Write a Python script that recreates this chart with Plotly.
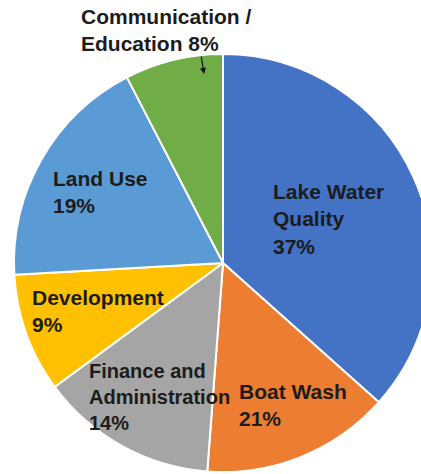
import plotly.graph_objects as go

# Data (slice sizes as drawn in the picture, label percentages as printed)
categories = ["Lake Water Quality", "Boat Wash", "Finance and Administration",
              "Development", "Land Use", "Communication / Education"]
slice_values = [36.6, 14.6, 13.7, 9.2, 18.3, 7.6]
printed_pct = ["37%", "21%", "14%", "9%", "19%", "8%"]
label_lines = ["Lake Water<br>Quality", "Boat Wash", "Finance and<br>Administration",
               "Development", "Land Use", "Communication /<br>Education"]
colors = ["#4472C4", "#ED7D31", "#A5A5A5", "#FFC000", "#5B9BD5", "#70AD47"]

W, H = 445, 474
cx, cy, r = 223, 263, 209

fig = go.Figure(go.Pie(
    labels=categories,
    values=slice_values,
    sort=False,
    direction="clockwise",
    rotation=0,
    marker=dict(colors=colors, line=dict(color="white", width=2)),
    textinfo="none",
    hoverinfo="label+percent",
    domain=dict(x=[(cx - r) / W, (cx + r) / W],
                y=[(H - cy - r) / H, (H - cy + r) / H]),
    showlegend=False,
))

# label placements (pixel positions of left edge / vertical centre, font size)
label_pos = [(271, 219, 21), (237, 405, 21), (87, 397, 20), (30, 311, 21), (51, 192, 21), (79, 30, 21)]
for i, (px, py, fs) in enumerate(label_pos):
    sep = " " if i == 5 else "<br>"
    txt = "<b>" + label_lines[i] + sep + printed_pct[i] + "</b>"
    fig.add_annotation(x=px / W, y=1 - py / H, xref="paper", yref="paper",
                       text=txt, showarrow=False, xanchor="left", yanchor="middle",
                       align="left",
                       font=dict(family="Liberation Sans, Arial, sans-serif",
                                 size=fs, color="#1c1c1c"))

# small arrow under the Communication label
fig.add_annotation(x=204 / W, y=1 - 74 / H, xref="paper", yref="paper",
                   text="", showarrow=True, ax=-3, ay=-19,
                   arrowhead=2, arrowsize=1, arrowwidth=1.2, arrowcolor="#111")

fig.update_layout(width=W, height=H, margin=dict(l=0, r=0, t=0, b=0),
                  paper_bgcolor="white", plot_bgcolor="white")

fig.write_html("out.html", post_script="document.body.style.overflow='hidden';document.body.style.margin='0';")
